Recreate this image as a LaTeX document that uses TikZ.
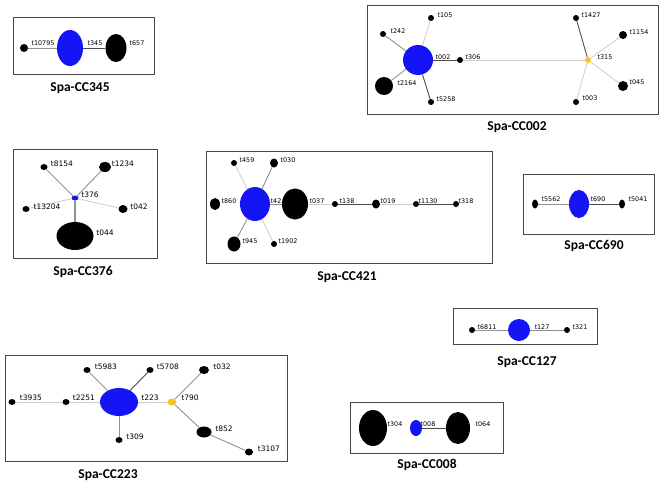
\documentclass[tikz,border=0pt]{standalone}
\usepackage{fontspec}
\usepackage{tikz}
\usetikzlibrary{shapes.geometric,backgrounds}

\newfontfamily\labfamily{DejaVu Sans}
\newfontfamily\ttlfamily{Carlito}

\definecolor{cblue}{RGB}{20,20,245}
\definecolor{cyellow}{RGB}{245,195,35}
\definecolor{cframe}{RGB}{70,70,70}
\definecolor{edark}{RGB}{75,75,75}
\definecolor{emid}{RGB}{145,145,145}
\definecolor{elight}{RGB}{205,205,205}

\tikzset{
	st/.style={ellipse,fill=black,inner sep=0pt},
	founder/.style={st,fill=cblue},
	subfounder/.style={st,fill=cyellow},
	sz/.style 2 args={minimum width=#1pt,minimum height=#2pt},
	lab/.style={font=\labfamily\fontsize{6.4}{7}\selectfont,inner sep=0pt},
	labbig/.style={font=\labfamily\fontsize{7.5}{8}\selectfont,inner sep=0pt},
	ttl/.style={font=\ttlfamily\bfseries\fontsize{13.5}{15}\selectfont,inner sep=0pt},
	frame/.style={draw=cframe,line width=0.8pt},
	dlink/.style={draw=edark,line width=0.9pt},
	mlink/.style={draw=emid,line width=0.9pt},
	llink/.style={draw=elight,line width=0.8pt},
}

\begin{document}
\begin{tikzpicture}[x=1pt,y=1pt,yscale=-1]
	\useasboundingbox (0,0) rectangle (660,482);
	
	%Spa-CC345
	\draw[frame] (13,17) rectangle (154,74);
	\node[st,sz={8}{8}] (t10795) at (24,48) {};
	\node[founder,sz={26}{36}] (t345) at (70,48) {};
	\node[st,sz={21}{28}] (t657) at (116,48) {};
	\node[lab] (l10795) at (43,43) {t10795};
	\node[lab] (l345) at (95,43) {t345};
	\node[lab] (l657) at (137,43) {t657};
	\node[ttl] (cc345) at (80,88) {Spa-CC345};
	
	%Spa-CC002
	\draw[frame] (367,5) rectangle (658,114);
	\node[founder,sz={30}{30}] (t002) at (418,60) {};
	\node[st,sz={6}{6}] (t105) at (431,18) {};
	\node[st,sz={6}{6}] (t242) at (383,34) {};
	\node[st,sz={18}{18}] (t2164) at (384,86) {};
	\node[st,sz={6}{6}] (t5258) at (431,102) {};
	\node[st,sz={6}{6}] (t306) at (460,60) {};
	\node[subfounder,sz={6}{6}] (t315) at (588,60) {};
	\node[st,sz={6}{6}] (t1427) at (576,18) {};
	\node[st,sz={8}{8}] (t1154) at (623,35) {};
	\node[st,sz={10}{10}] (t045) at (623,86) {};
	\node[st,sz={6}{6}] (t003) at (576,102) {};
	\node[lab] (l105) at (445,15) {t105};
	\node[lab] (l242) at (398,31) {t242};
	\node[lab] (l002) at (443,57) {t002};
	\node[lab] (l306) at (473,57) {t306};
	\node[lab] (l2164) at (407,83) {t2164};
	\node[lab] (l5258) at (446,99) {t5258};
	\node[lab] (l1427) at (591,15) {t1427};
	\node[lab] (l1154) at (639,32) {t1154};
	\node[lab] (l315) at (605,57) {t315};
	\node[lab] (l045) at (637,82) {t045};
	\node[lab] (l003) at (590,98) {t003};
	\node[ttl] (cc002) at (517,127) {Spa-CC002};
	
	%Spa-CC376
	\draw[frame] (13,149) rectangle (157,258);
	\node[founder,sz={7}{5}] (t376) at (75,198) {};
	\node[st,sz={7}{6}] (t8154) at (44,167) {};
	\node[st,sz={12}{10}] (t1234) at (105,167) {};
	\node[st,sz={7}{6}] (t13204) at (26,209) {};
	\node[st,sz={9}{8}] (t042) at (123,209) {};
	\node[st,sz={37}{28}] (t044) at (75,236) {};
	\node[labbig] (l8154) at (62,164) {t8154};
	\node[labbig] (l1234) at (123,164) {t1234};
	\node[labbig] (l376) at (90,195) {t376};
	\node[labbig] (l13204) at (47,207) {t13204};
	\node[labbig] (l042) at (139,207) {t042};
	\node[labbig] (l044) at (105,233) {t044};
	\node[ttl] (cc376) at (83,272) {Spa-CC376};
	
	%Spa-CC421
	\draw[frame] (206,151) rectangle (492,263);
	\node[founder,sz={30}{34}] (t421) at (255,204) {};
	\node[st,sz={6}{6}] (t459) at (234,163) {};
	\node[st,sz={8}{9}] (t030) at (274,163) {};
	\node[st,sz={10}{12}] (t860) at (215,204) {};
	\node[st,sz={13}{15}] (t945) at (234,244) {};
	\node[st,sz={6}{6}] (t1902) at (274,244) {};
	\node[lab] (l42) at (276,201) {t42};
	\node[st,sz={26}{31}] (t037) at (295,204) {};
	\node[st,sz={6}{6}] (t138) at (335,204) {};
	\node[st,sz={8}{9}] (t019) at (376,204) {};
	\node[st,sz={6}{6}] (t1130) at (416,204) {};
	\node[st,sz={6}{6}] (t318) at (456,204) {};
	\node[lab] (l459) at (247,160) {t459};
	\node[lab] (l030) at (288,160) {t030};
	\node[lab] (l860) at (229,201) {t860};
	\node[lab] (l037) at (317,201) {t037};
	\node[lab] (l138) at (347,201) {t138};
	\node[lab] (l019) at (388,201) {t019};
	\node[lab] (l1130) at (428,201) {t1130};
	\node[lab] (l318) at (466,201) {t318};
	\node[lab] (l945) at (250,241) {t945};
	\node[lab] (l1902) at (288,241) {t1902};
	\node[ttl] (cc421) at (347,277) {Spa-CC421};
	
	%Spa-CC690
	\draw[frame] (523,174) rectangle (654,234);
	\node[st,sz={6}{9}] (t5562) at (535,204) {};
	\node[founder,sz={20}{28}] (t690) at (579,204) {};
	\node[st,sz={6}{9}] (t5041) at (622,204) {};
	\node[lab] (l5562) at (551,199) {t5562};
	\node[lab] (l690) at (598,199) {t690};
	\node[lab] (l5041) at (638,199) {t5041};
	\node[ttl] (cc690) at (594,246) {Spa-CC690};
	
	%Spa-CC127
	\draw[frame] (453,308) rectangle (597,344);
	\node[st,sz={6}{6}] (t6811) at (472,330) {};
	\node[founder,sz={22}{22}] (t127) at (519,330) {};
	\node[st,sz={6}{6}] (t321) at (567,330) {};
	\node[lab] (l6811) at (487,327) {t6811};
	\node[lab] (l127) at (542,327) {t127};
	\node[lab] (l321) at (580,327) {t321};
	\node[ttl] (cc127) at (527,362) {Spa-CC127};
	
	%Spa-CC223
	\draw[frame] (5,355) rectangle (287,461);
	\node[founder,sz={38}{28}] (t223) at (119,402) {};
	\node[st,sz={7}{6}] (t5983) at (87,370) {};
	\node[st,sz={7}{6}] (t5708) at (150,370) {};
	\node[st,sz={7}{6}] (t2251) at (66,402) {};
	\node[st,sz={7}{6}] (t3935) at (12,402) {};
	\node[st,sz={7}{6}] (t309) at (119,440) {};
	\node[subfounder,sz={9}{7}] (t790) at (172,402) {};
	\node[st,sz={10}{8}] (t032) at (204,370) {};
	\node[st,sz={15}{11}] (t852) at (204,432) {};
	\node[st,sz={8}{7}] (t3107) at (249,452) {};
	\node[labbig] (l5983) at (106,367) {t5983};
	\node[labbig] (l5708) at (168,367) {t5708};
	\node[labbig] (l032) at (222,367) {t032};
	\node[labbig] (l3935) at (31,398) {t3935};
	\node[labbig] (l2251) at (84,398) {t2251};
	\node[labbig] (l223) at (150,398) {t223};
	\node[labbig] (l790) at (190,398) {t790};
	\node[labbig] (l852) at (224,429) {t852};
	\node[labbig] (l309) at (135,437) {t309};
	\node[labbig] (l3107) at (269,449) {t3107};
	\node[ttl] (cc223) at (108,475) {Spa-CC223};
	
	%Spa-CC008
	\draw[frame] (350,402) rectangle (503,453);
	\node[st,sz={28}{36}] (t304) at (373,428) {};
	\node[founder,sz={12}{16}] (t008) at (416,428) {};
	\node[st,sz={24}{32}] (t064) at (458,428) {};
	\node[lab] (l304) at (395,424) {t304};
	\node[lab] (l008) at (428,424) {t008};
	\node[lab] (l064) at (483,424) {t064};
	\node[ttl] (cc008) at (427,465) {Spa-CC008};
	
	%links, under the nodes
	\begin{scope}[on background layer]
		\draw[mlink] (t10795) -- (t345);
		\draw[dlink] (t345) -- (t657);
		
		\draw[llink] (t002) -- (t105);
		\draw[mlink] (t002) -- (t242);
		\draw[mlink] (t002) -- (t2164);
		\draw[dlink] (t002) -- (t5258);
		\draw[dlink] (t002) -- (t306);
		\draw[llink] (t306) -- (t315);
		\draw[dlink] (t315) -- (t1427);
		\draw[llink] (t315) -- (t1154);
		\draw[llink] (t315) -- (t045);
		\draw[llink] (t315) -- (t003);
		
		\draw[mlink] (t376) -- (t8154);
		\draw[mlink] (t376) -- (t1234);
		\draw[llink] (t376) -- (t13204);
		\draw[llink] (t376) -- (t042);
		\draw[mlink,line width=1.5pt] (t376) -- (t044);
		
		\draw[llink] (t421) -- (t459);
		\draw[mlink] (t421) -- (t030);
		\draw[mlink] (t421) -- (t945);
		\draw[llink] (t421) -- (t1902);
		\draw[mlink] (t421) -- (t037);
		\draw[llink] (t037) -- (t138);
		\draw[dlink] (t138) -- (t019);
		\draw[llink] (t019) -- (t1130);
		\draw[dlink] (t1130) -- (t318);
		
		\draw[mlink] (t5562) -- (t690);
		\draw[dlink] (t690) -- (t5041);
		
		\draw[mlink] (t6811) -- (t127);
		\draw[mlink] (t127) -- (t321);
		
		\draw[mlink] (t223) -- (t5983);
		\draw[dlink] (t223) -- (t5708);
		\draw[llink] (t223) -- (t2251);
		\draw[llink] (t2251) -- (t3935);
		\draw[mlink] (t223) -- (t309);
		\draw[llink] (t223) -- (t790);
		\draw[mlink] (t790) -- (t032);
		\draw[mlink] (t790) -- (t852);
		\draw[mlink] (t852) -- (t3107);
		
		\draw[dlink] (t008) -- (t064);
	\end{scope}
	
\end{tikzpicture}
\end{document}
